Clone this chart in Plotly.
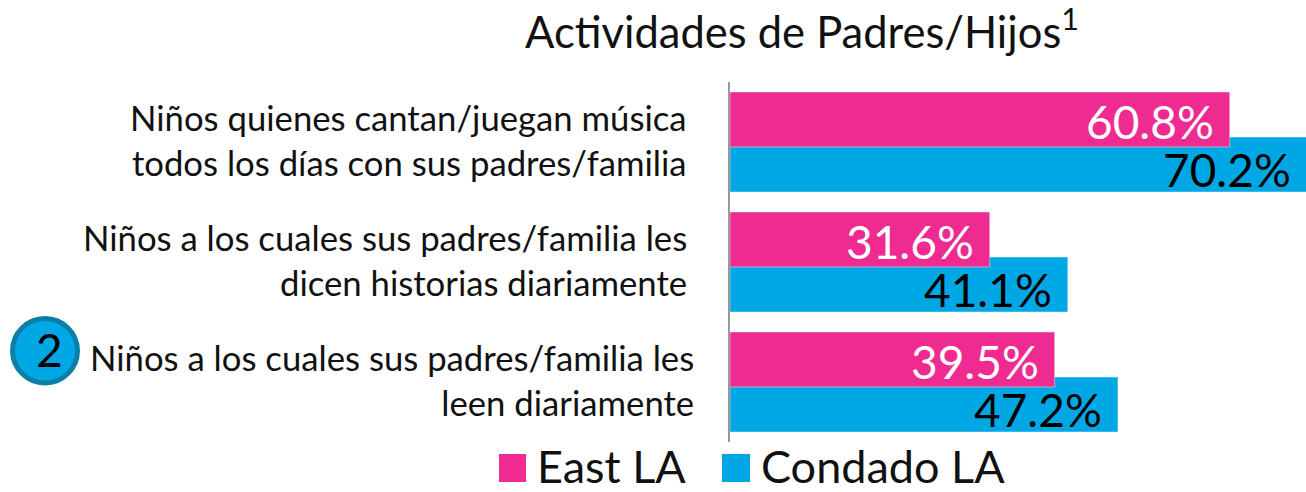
import plotly.graph_objects as go

categories = ["Niños a los cuales sus padres/familia les<br>leen diariamente",
              "Niños a los cuales sus padres/familia les<br>dicen historias diariamente",
              "Niños quienes cantan/juegan música<br>todos los días con sus padres/familia"]
east = [39.5, 31.6, 60.8]
condado = [47.2, 41.1, 70.2]
FONT = "Lato, 'Open Sans', sans-serif"
PINK = "#EF2B91"
BLUE = "#00A7E5"
W, H = 1307, 492
L, R, T, B = 730, 0, 82, 50
px = lambda v: (v - L) / (W - L - R)
py = lambda v: 1 - (v - T) / (H - T - B)

fig = go.Figure()
fig.add_bar(y=categories, x=condado, name="Condado LA", orientation="h", marker_color=BLUE,
            width=0.4583, offset=-0.4167, cliponaxis=False, showlegend=False)
fig.add_bar(y=categories, x=east, name="East LA", orientation="h", marker_color=PINK,
            width=0.4583, offset=-0.0417, cliponaxis=False, showlegend=False)

annotations = []
# Category labels
for cat, shift in zip(categories, [-34, -41, -41]):
    annotations.append(dict(x=0, y=cat, xref="x", yref="y", text=cat, showarrow=False, xanchor="right",
                            yanchor="middle", align="right", xshift=shift, yshift=2,
                            font=dict(size=34.7, color="#111", family=FONT)))
# Value labels
for cat, e, c in zip(categories, east, condado):
    annotations.append(dict(x=e, y=cat, xref="x", yref="y", text=f"{e}%", showarrow=False, xanchor="right",
                            yanchor="middle", xshift=-14, yshift=21, font=dict(size=46, color="white", family=FONT)))
    annotations.append(dict(x=c, y=cat, xref="x", yref="y", text=f"{c}%", showarrow=False, xanchor="right",
                            yanchor="middle", xshift=-14, yshift=-27, font=dict(size=46, color="black", family=FONT)))
# Legend text
annotations.append(dict(x=px(535), y=py(466), xref="paper", yref="paper", text="East LA", showarrow=False,
                        xanchor="left", yanchor="middle", font=dict(size=45, color="#111", family=FONT)))
annotations.append(dict(x=px(759), y=py(466), xref="paper", yref="paper", text="Condado LA", showarrow=False,
                        xanchor="left", yanchor="middle", font=dict(size=45, color="#111", family=FONT)))
# Badge text
annotations.append(dict(x=px(49), y=py(349), xref="paper", yref="paper", text="2", showarrow=False,
                        xanchor="center", yanchor="middle", font=dict(size=46, color="black", family=FONT)))

shapes = [
    dict(type="rect", xref="paper", yref="paper", x0=px(499), x1=px(526), y0=py(482), y1=py(454),
         fillcolor=PINK, line_width=0),
    dict(type="rect", xref="paper", yref="paper", x0=px(722), x1=px(750), y0=py(482), y1=py(454),
         fillcolor=BLUE, line_width=0),
    dict(type="circle", xref="paper", yref="paper", x0=px(12.5), x1=px(77.5), y0=py(383), y1=py(318.5),
         fillcolor=BLUE, line=dict(color="#0B7FA8", width=5)),
]

fig.update_layout(
    barmode="overlay", width=W, height=H,
    margin=dict(l=L, r=R, t=T, b=B, autoexpand=False), plot_bgcolor="white", paper_bgcolor="white",
    font=dict(family=FONT, color="#111"), showlegend=False,
    title=dict(text="Actividades de Padres/Hijos<sup>1</sup>", x=802 / W, xanchor="center",
               y=1 - 33 / H, yanchor="middle", font=dict(size=43.5)),
    xaxis=dict(range=[0, 70.2], visible=False),
    yaxis=dict(showticklabels=False, ticks="", showline=True, linecolor="#999", linewidth=2,
               showgrid=False, automargin=False, range=[-0.5, 2.5]),
    annotations=annotations, shapes=shapes,
)
fig.write_html("out.html", config={"displayModeBar": False},
               post_script="document.body.style.margin='0';document.documentElement.style.overflow='hidden';")
